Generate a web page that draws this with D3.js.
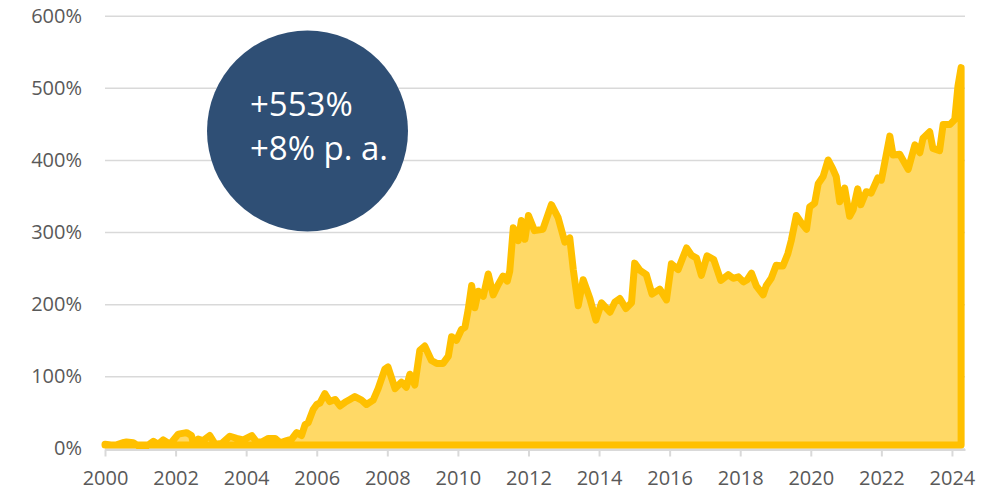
<!DOCTYPE html>
<html>
<head>
<meta charset="utf-8">
<script src="https://cdn.jsdelivr.net/npm/d3@7"></script>
<style>
  body { margin: 0; background: #fff; }
  svg { display: block; font-family: "Open Sans", sans-serif; }
</style>
</head>
<body>
<div id="chart"></div>
<script>
// cumulative return since 2000, in %
var years = [
  2000.00, 2000.17, 2000.33, 2000.50, 2000.61, 2000.80, 2000.99, 2001.14, 2001.37, 2001.51,
  2001.65, 2001.84, 2002.08, 2002.31, 2002.45, 2002.50, 2002.64, 2002.78, 2002.97, 2003.12,
  2003.31, 2003.54, 2003.73, 2003.92, 2004.16, 2004.30, 2004.44, 2004.63, 2004.82, 2004.96,
  2005.15, 2005.29, 2005.43, 2005.57, 2005.67, 2005.76, 2005.90, 2006.00, 2006.09, 2006.23,
  2006.37, 2006.52, 2006.66, 2006.80, 2006.94, 2007.08, 2007.27, 2007.41, 2007.60, 2007.74,
  2007.93, 2008.02, 2008.12, 2008.22, 2008.40, 2008.54, 2008.64, 2008.78, 2008.85, 2008.92,
  2009.06, 2009.25, 2009.40, 2009.58, 2009.73, 2009.82, 2009.96, 2010.10, 2010.20, 2010.29,
  2010.39, 2010.48, 2010.58, 2010.72, 2010.86, 2011.00, 2011.14, 2011.28, 2011.40, 2011.47,
  2011.57, 2011.71, 2011.80, 2011.90, 2012.00, 2012.17, 2012.41, 2012.65, 2012.84, 2013.03,
  2013.17, 2013.27, 2013.41, 2013.55, 2013.74, 2013.91, 2014.07, 2014.31, 2014.45, 2014.59,
  2014.76, 2014.92, 2015.01, 2015.16, 2015.34, 2015.50, 2015.72, 2015.91, 2016.05, 2016.24,
  2016.48, 2016.62, 2016.76, 2016.90, 2017.06, 2017.25, 2017.45, 2017.66, 2017.80, 2017.95,
  2018.09, 2018.20, 2018.32, 2018.46, 2018.65, 2018.74, 2018.88, 2019.02, 2019.21, 2019.35,
  2019.45, 2019.59, 2019.73, 2019.88, 2019.97, 2020.11, 2020.21, 2020.35, 2020.49, 2020.62,
  2020.72, 2020.82, 2020.96, 2021.10, 2021.20, 2021.33, 2021.42, 2021.57, 2021.71, 2021.90,
  2022.00, 2022.24, 2022.33, 2022.52, 2022.76, 2022.95, 2023.09, 2023.18, 2023.37, 2023.46,
  2023.65, 2023.75, 2023.94, 2024.08, 2024.17, 2024.26
];
var goldReturn = [
  6, 5, 5, 8, 9, 8, 2, 2, 10, 6,
  12, 6, 20, 22, 18, 8, 13, 11, 18, 6,
  7, 17, 14, 12, 18, 9, 9, 14, 14, 8,
  11, 13, 22, 18, 33, 36, 54, 61, 63, 76,
  65, 68, 59, 64, 68, 72, 67, 61, 67, 83,
  110, 113, 98, 83, 92, 85, 103, 88, 112, 136,
  142, 122, 118, 118, 128, 155, 150, 165, 168, 192,
  226, 195, 218, 211, 242, 213, 227, 239, 232, 246,
  306, 288, 316, 290, 323, 302, 304, 338, 320, 286,
  292, 248, 198, 234, 208, 178, 202, 189, 203, 208,
  194, 202, 257, 247, 241, 214, 221, 206, 256, 248,
  278, 268, 264, 240, 267, 262, 233, 241, 236, 238,
  231, 234, 243, 225, 213, 226, 236, 254, 253, 270,
  289, 323, 313, 304, 335, 340, 367, 377, 400, 388,
  377, 342, 361, 322, 331, 360, 338, 356, 354, 375,
  372, 433, 407, 408, 387, 421, 410, 430, 439, 416,
  413, 449, 449, 456, 502, 528
];
var yTicks = [0, 100, 200, 300, 400, 500, 600];
var xTicks = d3.range(2000, 2025, 2);
var totalText = "+553%";
var yearlyText = "+8% p. a.";

var width = 1000, height = 490;
var plotLeft = 105, plotRight = 965, plotTop = 15.7, plotBottom = 448.5;

var data = years.map(function(yr, i) { return {year: yr, value: goldReturn[i]}; });

var svg = d3.select("#chart")
  .append("svg")
    .attr("width", width)
    .attr("height", height);

var x = d3.scaleLinear()
    .domain([2000, 2024.37])
    .range([plotLeft, plotRight]);

var y = d3.scaleLinear()
    .domain([0, 600])
    .range([plotBottom, plotTop]);

// gridlines + y labels
var yAxis = svg.append("g")
    .attr("transform", "translate(" + plotLeft + ",0)")
    .call(d3.axisLeft(y)
      .tickValues(yTicks)
      .tickSize(-(plotRight - plotLeft))
      .tickPadding(23)
      .tickFormat(function(d) { return d + "%"; }));
yAxis.select(".domain").remove();
yAxis.selectAll("line").attr("stroke", "#d9d9d9").attr("stroke-width", 1.5);
yAxis.selectAll("text")
    .attr("fill", "#595959")
    .style("font-size", "20px")
    .style("font-family", "'Open Sans', sans-serif");

// area with its outline (baseline stroke sits a little above the axis)
var area = d3.area()
    .x(function(d) { return x(d.year); })
    .y0(y(0) - 3.5)
    .y1(function(d) { return y(d.value); });

svg.append("path")
    .datum(data)
    .attr("d", area)
    .attr("fill", "#ffd966")
    .attr("stroke", "#ffc000")
    .attr("stroke-width", 7)
    .attr("stroke-linejoin", "round");

// x axis
var xAxis = svg.append("g")
    .attr("transform", "translate(0," + (plotBottom + 1) + ")")
    .call(d3.axisBottom(x)
      .tickValues(xTicks)
      .tickSize(7)
      .tickSizeOuter(0)
      .tickFormat(d3.format("d")));
xAxis.select(".domain").attr("stroke", "#d9d9d9").attr("stroke-width", 2);
xAxis.selectAll("line").attr("stroke", "#d9d9d9").attr("stroke-width", 2);
xAxis.selectAll("text")
    .attr("y", 21)
    .attr("fill", "#595959")
    .style("font-size", "20px")
    .style("font-family", "'Open Sans', sans-serif");

// bubble
svg.append("circle")
    .attr("cx", 307.5)
    .attr("cy", 131)
    .attr("r", 100.5)
    .attr("fill", "#2f4f75");

svg.append("text")
    .attr("x", 250)
    .attr("y", 116)
    .attr("fill", "#fff")
    .style("font-size", "33px")
    .text(totalText);

svg.append("text")
    .attr("x", 250)
    .attr("y", 160)
    .attr("fill", "#fff")
    .style("font-size", "33px")
    .text(yearlyText);
</script>
</body>
</html>
